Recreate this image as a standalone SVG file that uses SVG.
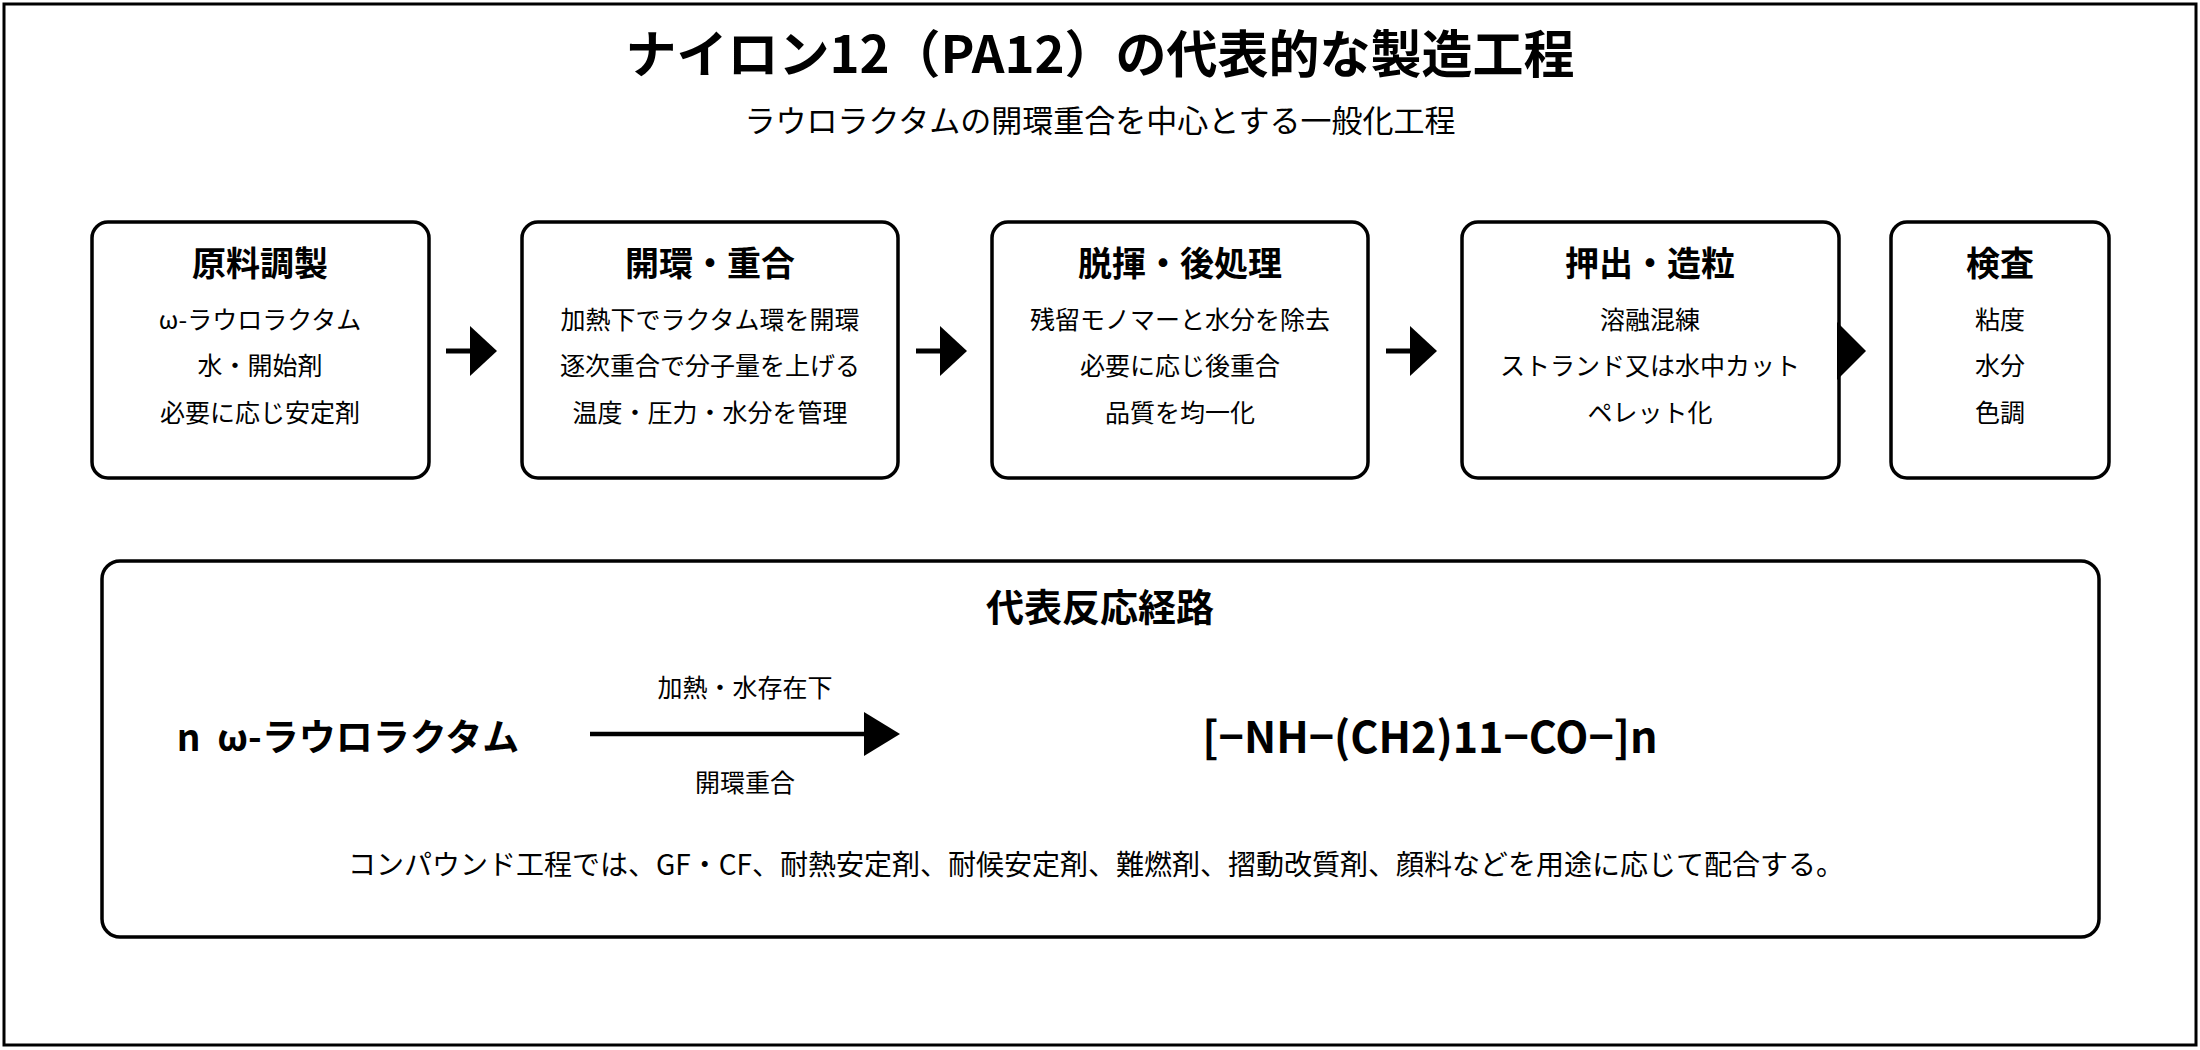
<svg xmlns="http://www.w3.org/2000/svg" width="2200" height="1050" viewBox="0 0 2200 1050">
<style>
text{font-family:"Noto Sans CJK JP","Noto Sans",sans-serif;text-anchor:middle;fill:#000}
.box{fill:#fff;stroke:#000;stroke-width:3.5}
.h{font-size:34px;font-weight:bold}
.t{font-size:25px}
.sh{stroke:#000;stroke-width:5}
</style>
<rect x="4" y="4" width="2192" height="1041" fill="#fff" stroke="#000" stroke-width="3"/>
<text x="1100" y="73" style="font-size:51px;font-weight:bold">ナイロン12（PA12）の代表的な製造工程</text>
<text x="1100" y="132" style="font-size:31px">ラウロラクタムの開環重合を中心とする一般化工程</text>
<g id="n1"><rect class="box" x="92" y="222" width="337" height="256" rx="16"/><text class="h" x="260" y="276">原料調製</text><text class="t" x="260" y="329">ω-ラウロラクタム</text><text class="t" x="260" y="375">水・開始剤</text><text class="t" x="260" y="422">必要に応じ安定剤</text></g>
<g id="n2"><rect class="box" x="522" y="222" width="376" height="256" rx="16"/><text class="h" x="710" y="276">開環・重合</text><text class="t" x="710" y="329">加熱下でラクタム環を開環</text><text class="t" x="710" y="375">逐次重合で分子量を上げる</text><text class="t" x="710" y="422">温度・圧力・水分を管理</text></g>
<g id="n3"><rect class="box" x="992" y="222" width="376" height="256" rx="16"/><text class="h" x="1180" y="276">脱揮・後処理</text><text class="t" x="1180" y="329">残留モノマーと水分を除去</text><text class="t" x="1180" y="375">必要に応じ後重合</text><text class="t" x="1180" y="422">品質を均一化</text></g>
<g id="n4"><rect class="box" x="1462" y="222" width="377" height="256" rx="16"/><text class="h" x="1650" y="276">押出・造粒</text><text class="t" x="1650" y="329">溶融混練</text><text class="t" x="1650" y="375">ストランド又は水中カット</text><text class="t" x="1650" y="422">ペレット化</text></g>
<g id="n5"><rect class="box" x="1891" y="222" width="218" height="256" rx="16"/><text class="h" x="2000" y="276">検査</text><text class="t" x="2000" y="329">粘度</text><text class="t" x="2000" y="375">水分</text><text class="t" x="2000" y="422">色調</text></g>
<g id="connectors">
<line class="sh" x1="446" y1="351" x2="472" y2="351"/><path d="M470,326L497,351L470,376Z"/>
<line class="sh" x1="916" y1="351" x2="942" y2="351"/><path d="M940,326L967,351L940,376Z"/>
<line class="sh" x1="1386" y1="351" x2="1412" y2="351"/><path d="M1410,326L1437,351L1410,376Z"/>
<path d="M1837,322L1866,351L1837,380Z"/>
</g>
<g id="reaction">
<rect class="box" x="102" y="561" width="1997" height="376" rx="18"/>
<text x="1100" y="621" style="font-size:38px;font-weight:bold">代表反応経路</text>
<text x="348" y="751" style="font-size:37px;font-weight:bold" xml:space="preserve">n  ω-ラウロラクタム</text>
<line x1="590" y1="734" x2="870" y2="734" stroke="#000" stroke-width="4.5"/>
<path d="M864,712L900,734L864,756Z"/>
<text class="t" x="745" y="697">加熱・水存在下</text>
<text class="t" x="745" y="792">開環重合</text>
<text x="1430" y="753" style="font-size:43px;font-weight:bold">[−NH−(CH2)11−CO−]n</text>
<text x="1096" y="875" style="font-size:28px">コンパウンド工程では、GF・CF、耐熱安定剤、耐候安定剤、難燃剤、摺動改質剤、顔料などを用途に応じて配合する。</text>
</g>
</svg>
